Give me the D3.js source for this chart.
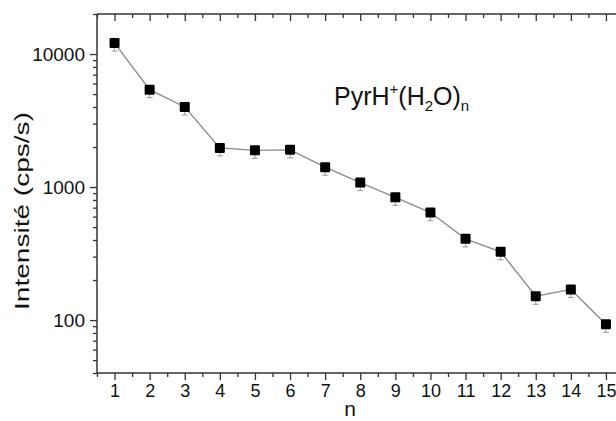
<!DOCTYPE html>
<html><head><meta charset="utf-8">
<script src="https://cdn.jsdelivr.net/npm/d3@7/dist/d3.min.js"></script>
<style>body{margin:0;background:#fff}svg{display:block}text{font-family:"Liberation Sans",Arial,sans-serif;fill:#111}</style>
</head><body><svg id="c" width="616" height="421"></svg>
<script>
const nValues = [1,2,3,4,5,6,7,8,9,10,11,12,13,14,15];
const intensity = [12100,5400,4000,1970,1890,1905,1410,1080,837,643,408,326,151,170,93];
const errFrac = [0.13,0.13,0.13,0.13,0.13,0.13,0.13,0.13,0.13,0.13,0.13,0.13,0.13,0.13,0.13];
const yTickValues = [100,1000,10000];
const yTickLabels = ["100","1000","10000"];
const xTickValues = [1,2,3,4,5,6,7,8,9,10,11,12,13,14,15];
const xMinorValues = [0.5,1.5,2.5,3.5,4.5,5.5,6.5,7.5,8.5,9.5,10.5,11.5,12.5,13.5,14.5,15.5];

const svg = d3.select("#c");
const x = d3.scaleLinear().domain([0.5,15.5]).range([97,623.5]);
const y = d3.scaleLog().domain([40,20000]).range([373,14]);
const axisColor = "#333";

const yMinor = [];
[10,100,1000,10000].forEach(d => { for (let k=2;k<=9;k++){ const v=d*k; if (v>=40 && v<=20000) yMinor.push(v);} });

function styleAxis(g){ g.select(".domain").remove(); g.selectAll("line").attr("stroke",axisColor).attr("stroke-width",1.3); }

svg.append("g").attr("transform","translate(97,0)")
  .call(d3.axisLeft(y).tickValues(yMinor).tickSize(4).tickFormat(""))
  .call(styleAxis);
svg.append("g").attr("transform","translate(97,0)")
  .call(d3.axisLeft(y).tickValues(yTickValues).tickSize(7).tickPadding(5).tickFormat((d,i)=>yTickLabels[i]))
  .call(styleAxis)
  .call(g=>g.selectAll("text").attr("font-size",19).attr("fill","#1a1a1a").attr("font-family","Liberation Sans, Arial, sans-serif"));

svg.append("g").attr("transform","translate(0,373)")
  .call(d3.axisBottom(x).tickValues(xMinorValues).tickSize(4).tickFormat(""))
  .call(styleAxis);
svg.append("g").attr("transform","translate(0,373)")
  .call(d3.axisBottom(x).tickValues(xTickValues).tickSize(7).tickPadding(4).tickFormat(d3.format("d")))
  .call(styleAxis)
  .call(g=>g.selectAll("text").attr("font-size",18).attr("fill","#1a1a1a").attr("font-family","Liberation Sans, Arial, sans-serif"));

svg.append("g").attr("transform","translate(0,14)")
  .call(d3.axisBottom(x).tickValues(xMinorValues).tickSize(4).tickFormat(""))
  .call(styleAxis);
svg.append("g").attr("transform","translate(0,14)")
  .call(d3.axisBottom(x).tickValues(xTickValues).tickSize(7).tickFormat(""))
  .call(styleAxis);

svg.append("line").attr("x1",97).attr("x2",97).attr("y1",14).attr("y2",373).attr("stroke",axisColor).attr("stroke-width",1.5);
svg.append("line").attr("x1",97).attr("x2",624).attr("y1",373).attr("y2",373).attr("stroke",axisColor).attr("stroke-width",1.5);
svg.append("line").attr("x1",97).attr("x2",624).attr("y1",14).attr("y2",14).attr("stroke",axisColor).attr("stroke-width",1.5);

const data = nValues.map((n,i)=>({n, v:intensity[i], e:intensity[i]*errFrac[i]}));

svg.append("path").datum(data)
  .attr("fill","none").attr("stroke","#8a8a8a").attr("stroke-width",1.3)
  .attr("d", d3.line().x(d=>x(d.n)).y(d=>y(d.v)));

// error bars (only the lower part shows below the marker)
const eb = svg.append("g").attr("stroke","#999").attr("stroke-width",1);
eb.selectAll("line.v").data(data).join("line")
  .attr("x1",d=>x(d.n)).attr("x2",d=>x(d.n))
  .attr("y1",d=>y(d.v)).attr("y2",d=>y(d.v-d.e));
eb.selectAll("line.c").data(data).join("line")
  .attr("x1",d=>x(d.n)-3).attr("x2",d=>x(d.n)+3)
  .attr("y1",d=>y(d.v-d.e)).attr("y2",d=>y(d.v-d.e));

svg.append("g").selectAll("rect").data(data).join("rect")
  .attr("x",d=>x(d.n)-5).attr("y",d=>y(d.v)-5)
  .attr("width",10).attr("height",10).attr("rx",1.2)
  .attr("fill","#000");

svg.append("text")
  .attr("transform","translate(28.5,211) rotate(-90)")
  .attr("text-anchor","middle")
  .attr("font-size",21).attr("fill","#1a1a1a")
  .attr("textLength",198).attr("lengthAdjust","spacingAndGlyphs")
  .text("Intensité (cps/s)");

svg.append("text").attr("x",350).attr("y",416).attr("text-anchor","middle").attr("font-size",21).attr("fill","#1a1a1a").text("n");

const t = svg.append("text").attr("x",334).attr("y",105).attr("font-size",25).attr("fill","#1a1a1a");
t.append("tspan").text("PyrH");
t.append("tspan").attr("font-size",15).attr("dy",-11).text("+");
t.append("tspan").attr("dy",11).text("(H");
t.append("tspan").attr("font-size",15).attr("dy",6).text("2");
t.append("tspan").attr("dy",-6).text("O)");
t.append("tspan").attr("font-size",15).attr("dy",6).text("n");
</script></body></html>
